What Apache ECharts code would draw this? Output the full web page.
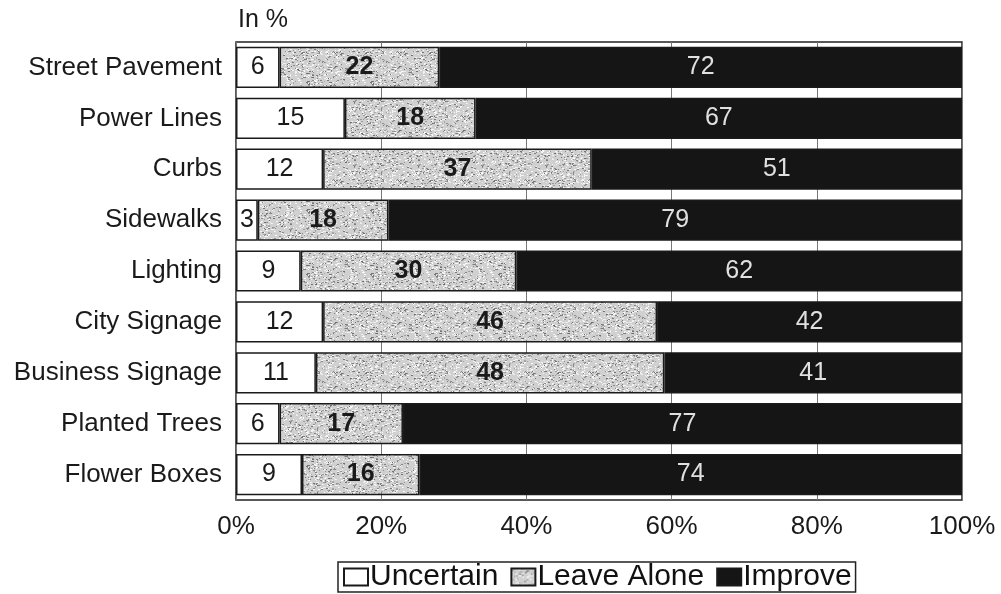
<!DOCTYPE html>
<html>
<head>
<meta charset="utf-8">
<script src="https://cdn.jsdelivr.net/npm/echarts@6/dist/echarts.min.js"></script>
<style>
  html, body { margin: 0; padding: 0; background: #fff; }
  #chart { width: 1001px; height: 594px; }
</style>
</head>
<body>
<div id="chart"></div>
<script>
const categories = ['Street Pavement', 'Power Lines', 'Curbs', 'Sidewalks', 'Lighting',
  'City Signage', 'Business Signage', 'Planted Trees', 'Flower Boxes'];
const uncertain = [6, 15, 12, 3, 9, 12, 11, 6, 9];
const leaveAlone = [22, 18, 37, 18, 30, 46, 48, 17, 16];
const improve = [72, 67, 51, 79, 62, 42, 41, 77, 74];
const xTicks = [0, 20, 40, 60, 80, 100];

// rows are drawn as share of their own total (100% stacked)
const totals = categories.map((c, i) => uncertain[i] + leaveAlone[i] + improve[i]);
const share = (arr) => arr.map((v, i) => v / totals[i] * 100);

// speckled grey fill like the printed original
function speckle() {
  const cv = document.createElement('canvas');
  cv.width = 64; cv.height = 64;
  const ctx = cv.getContext('2d');
  ctx.fillStyle = '#d0d0d0';
  ctx.fillRect(0, 0, 64, 64);
  let s = 12345;
  const next = () => { s = (s * 1103515245 + 12345) & 0x7fffffff; return s / 0x7fffffff; };
  for (let k = 0; k < 900; k++) {
    const g = next() < 0.5 ? 110 + Math.floor(next() * 60) : 235 + Math.floor(next() * 20);
    ctx.fillStyle = 'rgb(' + g + ',' + g + ',' + g + ')';
    ctx.fillRect(Math.floor(next() * 64), Math.floor(next() * 64), 1 + Math.floor(next() * 2), 1);
  }
  return cv;
}
const stipple = { image: speckle(), repeat: 'repeat' };

const font = 'Liberation Sans, Arial, sans-serif';
const chart = echarts.init(document.getElementById('chart'));

function barSeries(name, raw, color, label) {
  return {
    name: name,
    type: 'bar',
    stack: 'all',
    barCategoryGap: '19%',
    data: share(raw),
    itemStyle: { color: color, borderColor: '#1a1a1a', borderWidth: 1.5 },
    label: Object.assign({
      show: true,
      position: 'inside',
      fontFamily: font,
      fontSize: 25,
      formatter: (p) => raw[p.dataIndex]
    }, label)
  };
}

chart.setOption({
  animation: false,
  backgroundColor: '#fff',
  textStyle: { fontFamily: font },
  title: {
    text: 'In %',
    left: 233,
    top: 3,
    textStyle: { fontFamily: font, fontSize: 25, fontWeight: 'normal', color: '#1a1a1a' }
  },
  grid: {
    left: 236,
    right: 39,
    top: 42,
    bottom: 94,
    show: true,
    borderColor: '#222',
    borderWidth: 1.5
  },
  legend: {
    left: 338,
    top: 562,
    icon: 'rect',
    itemGap: 12,
    itemWidth: 24,
    itemHeight: 17,
    borderColor: '#222',
    borderWidth: 1.5,
    padding: [0, 4, 0, 5],
    textStyle: { fontFamily: font, fontSize: 30, color: '#111', padding: [0, 0, 0, -3] },
    data: ['Uncertain', 'Leave Alone', 'Improve']
  },
  xAxis: {
    type: 'value',
    min: xTicks[0],
    max: xTicks[xTicks.length - 1],
    interval: 20,
    axisLine: { show: false },
    axisTick: { show: false },
    splitLine: { show: true, lineStyle: { color: '#777', width: 1 } },
    axisLabel: { margin: 14, fontFamily: font, fontSize: 26, color: '#1a1a1a', formatter: '{value}%' }
  },
  yAxis: {
    type: 'category',
    inverse: true,
    data: categories,
    axisLine: { show: false },
    axisTick: { show: false },
    axisLabel: { margin: 14, fontFamily: font, fontSize: 26, color: '#1a1a1a' }
  },
  series: [
    barSeries('Uncertain', uncertain, '#ffffff', { color: '#1a1a1a' }),
    barSeries('Leave Alone', leaveAlone, stipple, { color: '#1a1a1a', fontWeight: 'bold' }),
    barSeries('Improve', improve, '#151515', { color: '#e0e0e0' })
  ]
});
</script>
</body>
</html>
